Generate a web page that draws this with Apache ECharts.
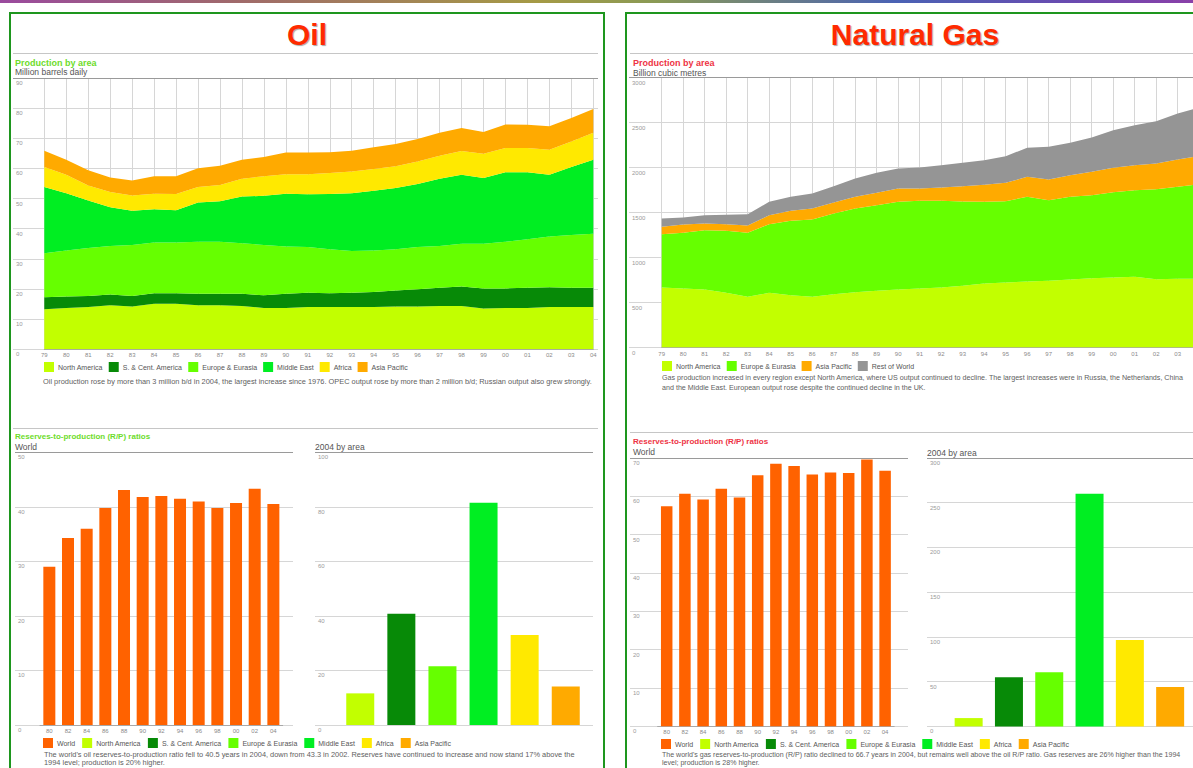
<!DOCTYPE html>
<html>
<head>
<meta charset="utf-8">
<script src="https://cdn.jsdelivr.net/npm/echarts@6/dist/echarts.min.js"></script>
<style>
  html, body { margin: 0; padding: 0; width: 1193px; height: 768px; overflow: hidden; background: #fff;
    font-family: 'Liberation Sans', Arial, sans-serif; }
  .abs { position: absolute; }
  .strip { left: 0; top: 0; width: 1193px; height: 3px;
    background: linear-gradient(to right, #9a4a9e 0%, #a06a6a 20%, #a59a45 45%, #8a9a55 55%, #4a62b4 75%, #6a4ab0 90%, #8a40a8 100%); }
  .panel { border: 2px solid #1e961e; box-sizing: border-box; }
  .title { font-weight: bold; font-size: 30px; line-height: 30px; color: #ff2a00; text-align: center;
    text-shadow: 1px 1px 1px rgba(0,0,0,0.35); z-index: 3; }
  .rule { height: 0; border-top: 1px solid #c6c6c6; z-index: 3; }
  .rule.dark { border-top-color: #9a9a9a; }
  .head { font-weight: bold; white-space: nowrap; line-height: 10px; z-index: 3; }
  .sub { color: #555; white-space: nowrap; line-height: 10px; z-index: 3; }
  .cap { color: #606060; font-size: 7.4px; line-height: 9.5px; white-space: nowrap; z-index: 3; }
  .cap.low { line-height: 8.8px; }
  #chart { position: absolute; left: 0; top: 0; width: 1193px; height: 768px; z-index: 2; }
</style>
</head>
<body>
<div class="abs strip"></div>

<div class="abs panel" style="left:9px;top:12px;width:596px;height:800px;"></div>
<div class="abs panel" style="left:625px;top:12px;width:600px;height:800px;"></div>

<div class="abs title" style="left:9px;top:20px;width:596px;">Oil</div>
<div class="abs title" style="left:625px;top:20px;width:580px;">Natural Gas</div>

<div class="abs rule" style="left:13px;top:53px;width:585px;"></div>
<div class="abs rule" style="left:630px;top:53px;width:570px;"></div>

<div class="abs head" style="left:15px;top:58px;font-size:9px;color:#6ddc2a;">Production by area</div>
<div class="abs sub" style="left:15px;top:67px;font-size:8.5px;">Million barrels daily</div>
<div class="abs head" style="left:633px;top:58px;font-size:9px;color:#ee3344;">Production by area</div>
<div class="abs sub" style="left:633px;top:68px;font-size:8.5px;">Billion cubic metres</div>

<div class="abs rule dark" style="left:13px;top:78px;width:585px;"></div>
<div class="abs rule dark" style="left:629px;top:77px;width:570px;"></div>

<div class="abs cap" style="left:43px;top:376.5px;">Oil production rose by more than 3 million b/d in 2004, the largest increase since 1976. OPEC output rose by more than 2 million b/d; Russian output also grew strongly.</div>
<div class="abs cap" style="left:662px;top:374px;font-size:7.15px;">Gas production increased in every region except North America, where US output continued to decline. The largest increases were in Russia, the Netherlands, China<br>and the Middle East. European output rose despite the continued decline in the UK.</div>

<div class="abs rule" style="left:13px;top:428px;width:585px;"></div>
<div class="abs rule" style="left:630px;top:432px;width:570px;"></div>

<div class="abs head" style="left:15px;top:432px;font-size:8px;color:#6ddc2a;">Reserves-to-production (R/P) ratios</div>
<div class="abs sub" style="left:15px;top:442px;font-size:8.5px;">World</div>
<div class="abs sub" style="left:315px;top:442px;font-size:8.5px;">2004 by area</div>
<div class="abs head" style="left:633px;top:437px;font-size:8px;color:#ee3344;">Reserves-to-production (R/P) ratios</div>
<div class="abs sub" style="left:633px;top:447px;font-size:8.5px;">World</div>
<div class="abs sub" style="left:927px;top:448px;font-size:8.5px;">2004 by area</div>

<div class="abs rule dark" style="left:15px;top:452px;width:278px;"></div>
<div class="abs rule dark" style="left:315px;top:452px;width:278px;"></div>
<div class="abs rule dark" style="left:630px;top:458px;width:278px;"></div>
<div class="abs rule dark" style="left:927px;top:458px;width:280px;"></div>

<div class="abs cap low" style="left:44px;top:750.5px;">The world's oil reserves-to-production ratio fell to 40.5 years in 2004, down from 43.3 in 2002. Reserves have continued to increase and now stand 17% above the<br>1994 level; production is 20% higher.</div>
<div class="abs cap low" style="left:662px;top:750.5px;font-size:7.05px;">The world's gas reserves-to-production (R/P) ratio declined to 66.7 years in 2004, but remains well above the oil R/P ratio. Gas reserves are 26% higher than the 1994<br>level; production is 28% higher.</div>

<div id="chart"></div>

<script>
// ---- data ----
const years = ['79','80','81','82','83','84','85','86','87','88','89','90','91','92','93','94','95','96','97','98','99','00','01','02','03','04'];

// Oil production by area, million barrels daily
const oilNorthAmerica = [13.3,13.7,14.0,14.6,14.2,15.1,15.1,14.6,14.6,14.4,13.7,13.7,14.0,14.0,14.0,14.0,14.2,14.2,14.4,14.4,13.5,13.7,13.7,14.0,14.0,14.0];
const oilSouthCentral = [4.0,3.8,3.7,3.6,3.5,3.5,3.5,3.8,3.8,4.0,4.2,4.7,4.8,4.6,4.8,5.0,5.3,5.7,6.0,6.4,6.7,6.5,6.7,6.6,6.4,6.4];
const oilEurope       = [14.6,15.3,15.9,16.1,16.9,16.8,16.8,17.3,17.3,16.8,16.7,15.7,15.1,14.6,13.8,13.8,13.7,14.0,13.9,14.2,14.8,15.5,16.1,16.8,17.5,17.9];
const oilMiddleEast   = [21.9,19.0,15.8,12.8,11.4,11.1,10.7,13.0,13.4,15.5,16.3,17.5,17.5,18.3,19.2,19.8,20.3,20.9,22.3,22.9,21.8,23.0,22.2,20.5,22.6,24.6];
const oilAfrica       = [6.7,6.1,4.9,5.1,5.0,5.1,5.4,5.1,5.4,5.9,6.5,6.5,6.7,7.0,7.2,7.2,7.2,7.5,7.6,7.9,8.1,8.1,8.1,8.3,8.4,8.9];
const oilAsiaPacific  = [5.4,5.0,5.1,4.8,5.0,5.8,5.9,6.3,6.4,6.3,6.4,7.2,7.2,6.9,6.9,7.2,7.4,7.5,7.6,7.6,7.2,7.8,7.7,7.8,7.8,7.9];

// Natural gas production by area, billion cubic metres
const gasNorthAmerica = [667,656,644,607,563,607,581,563,593,615,630,644,656,667,685,711,722,733,741,756,770,778,785,759,763,763];
const gasEurope       = [592,618,660,689,711,763,826,859,896,929,951,975,974,963,937,908,904,941,896,918,923,948,963,1000,1022,1052];
const gasAsiaPacific  = [82,93,74,74,82,100,112,122,122,130,138,148,137,148,171,188,204,222,230,241,259,270,278,285,304,311];
const gasRestOfWorld  = [92,77,92,104,125,149,155,167,182,204,222,222,233,248,259,274,296,323,363,359,381,419,444,471,511,541];

// World R/P ratios, years
const rpYears = ['80','82','84','86','88','90','92','94','96','98','00','02','04'];
const oilWorldRP = [29.0,34.3,36.0,39.8,43.1,41.8,42.0,41.5,41.0,39.8,40.7,43.3,40.5];
const gasWorldRP = [57.4,60.7,59.2,62.0,59.7,65.5,68.5,67.9,65.7,66.2,66.1,69.6,66.7];

// 2004 R/P ratios by area, years
const areaNames = ['North America','S. & Cent. America','Europe & Eurasia','Middle East','Africa','Asia Pacific'];
const oilRPByArea = [11.6,40.8,21.5,81.5,33.0,14.1];
const gasRPByArea = [9.3,55.0,60.6,260,96.7,43.9];

// ---- styling ----
const FONT = "'Liberation Sans', Arial, sans-serif";
const COLORS = {
  'North America': '#c2ff00',
  'S. & Cent. America': '#078a07',
  'Europe & Eurasia': '#66ff00',
  'Middle East': '#00ee22',
  'Africa': '#ffe900',
  'Asia Pacific': '#ffaa00',
  'Rest of World': '#959595',
  'World': '#ff6200'
};
const GRID_LINE = '#d6d6d6';

const grids = [];
const xAxes = [];
const yAxes = [];
const series = [];

// A background grid carrying the horizontal rules and the value labels
function addFrame(box, max, interval) {
  const i = grids.length;
  grids.push(Object.assign({ containLabel: false, outerBoundsMode: 'none' }, box));
  xAxes.push({ gridIndex: i, type: 'value', min: 0, max: 1, show: false });
  yAxes.push({
    gridIndex: i, type: 'value', min: 0, max: max, interval: interval,
    axisLine: { show: false }, axisTick: { show: false },
    splitLine: { show: true, lineStyle: { color: GRID_LINE, width: 1 } },
    axisLabel: { inside: true, verticalAlign: 'top', margin: 3, padding: [2, 0, 0, 0],
      fontSize: 6, color: '#9a9a9a', fontFamily: FONT, formatter: v => String(v) }
  });
  return i;
}

// The plotting grid that holds the series
function addPlot(box, max, xAxis) {
  const i = grids.length;
  grids.push(Object.assign({ containLabel: false, outerBoundsMode: 'none' }, box));
  xAxes.push(Object.assign({ gridIndex: i }, xAxis));
  yAxes.push({ gridIndex: i, type: 'value', min: 0, max: max, show: false });
  return i;
}

function yearAxis(data, boundaryGap, extra, labelExtra) {
  return Object.assign({
    type: 'category', data: data, boundaryGap: boundaryGap,
    axisLine: { show: true, lineStyle: { color: '#a8a8a8', width: 1 } },
    axisTick: { show: false },
    axisLabel: Object.assign({ interval: 0, fontSize: 6, color: '#8a8a8a', margin: 3, fontFamily: FONT }, labelExtra || {})
  }, extra || {});
}

function addAreas(plot, stack, names, lists) {
  names.forEach((name, k) => {
    series.push({
      name: name, type: 'line', stack: stack,
      xAxisIndex: plot, yAxisIndex: plot,
      data: lists[k], symbol: 'none', smooth: false,
      lineStyle: { width: 0 },
      itemStyle: { color: COLORS[name] },
      areaStyle: { color: COLORS[name], opacity: 1 }
    });
  });
}

function addAreaBars(plot, values, width) {
  areaNames.forEach((name, k) => {
    const data = areaNames.map((_, j) => (j === k ? values[k] : '-'));
    series.push({
      name: name, type: 'bar', xAxisIndex: plot, yAxisIndex: plot,
      data: data, barWidth: width, barGap: '-100%',
      itemStyle: { color: COLORS[name] }
    });
  });
}

const yearSplit = { splitLine: { show: true, interval: 0, lineStyle: { color: GRID_LINE } } };

// Oil production by area
addFrame({ left: 13, top: 78, width: 585, height: 271.3 }, 90, 10);
const oilProd = addPlot({ left: 44.3, top: 78, width: 549, height: 271.3 }, 90, yearAxis(years, false, yearSplit));
addAreas(oilProd, 'oil', areaNames,
  [oilNorthAmerica, oilSouthCentral, oilEurope, oilMiddleEast, oilAfrica, oilAsiaPacific]);

// Natural gas production by area (the 2004 column runs past the right edge of the page,
// so its year label is left off)
addFrame({ left: 629, top: 77.5, width: 600, height: 270 }, 3000, 500);
const gasProd = addPlot({ left: 661.7, top: 77.5, width: 537.5, height: 270 }, 3000,
  yearAxis(years, false, yearSplit, { formatter: (v, idx) => (idx === years.length - 1 ? '' : v) }));
addAreas(gasProd, 'gas', ['North America', 'Europe & Eurasia', 'Asia Pacific', 'Rest of World'],
  [gasNorthAmerica, gasEurope, gasAsiaPacific, gasRestOfWorld]);

// Oil R/P, world
addFrame({ left: 15, top: 452.3, width: 278, height: 272.7 }, 50, 10);
const oilWorld = addPlot({ left: 40, top: 452.3, width: 242.7, height: 272.7 }, 50, yearAxis(rpYears, true));
series.push({ name: 'World', type: 'bar', xAxisIndex: oilWorld, yAxisIndex: oilWorld,
  data: oilWorldRP, barWidth: 12, itemStyle: { color: COLORS['World'] } });

// Oil R/P, 2004 by area
addFrame({ left: 315, top: 452.3, width: 278, height: 272.7 }, 100, 20);
const oilArea = addPlot({ left: 339.7, top: 452.3, width: 246.6, height: 272.7 }, 100,
  { type: 'category', data: areaNames, axisLine: { show: false }, axisTick: { show: false }, axisLabel: { show: false } });
addAreaBars(oilArea, oilRPByArea, 28);

// Gas R/P, world
addFrame({ left: 630, top: 458, width: 278, height: 268.2 }, 70, 10);
const gasWorld = addPlot({ left: 657.6, top: 458, width: 236.6, height: 268.2 }, 70, yearAxis(rpYears, true));
series.push({ name: 'World', type: 'bar', xAxisIndex: gasWorld, yAxisIndex: gasWorld,
  data: gasWorldRP, barWidth: 11.5, itemStyle: { color: COLORS['World'] } });

// Gas R/P, 2004 by area
addFrame({ left: 927, top: 458, width: 300, height: 268.4 }, 300, 50);
const gasArea = addPlot({ left: 948.5, top: 458, width: 241.8, height: 268.4 }, 300,
  { type: 'category', data: areaNames, axisLine: { show: false }, axisTick: { show: false }, axisLabel: { show: false } });
addAreaBars(gasArea, gasRPByArea, 28);

function legend(left, top, names, gap) {
  return {
    left: left, top: top, padding: 0, data: names, icon: 'rect',
    itemWidth: 10, itemHeight: 10, itemGap: gap, selectedMode: false,
    textStyle: { fontSize: 7, color: '#555', fontFamily: FONT, padding: [0, 0, 0, -1] }
  };
}

const chart = echarts.init(document.getElementById('chart'), null, { renderer: 'svg' });
chart.setOption({
  animation: false,
  backgroundColor: 'transparent',
  grid: grids,
  xAxis: xAxes,
  yAxis: yAxes,
  legend: [
    legend(44, 362, areaNames, 6),
    legend(662, 361, ['North America', 'Europe & Eurasia', 'Asia Pacific', 'Rest of World'], 6),
    legend(43, 738, ['World'].concat(areaNames), 7),
    legend(661, 739, ['World'].concat(areaNames), 7)
  ],
  series: series
});
</script>
</body>
</html>
